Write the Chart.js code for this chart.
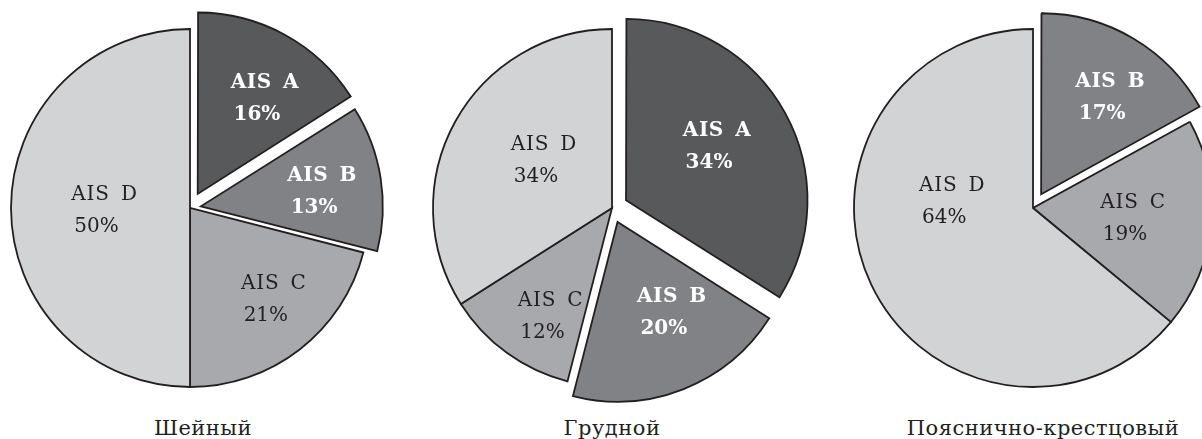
<!DOCTYPE html>
<html>
<head>
<meta charset="utf-8">
<script src="https://cdn.jsdelivr.net/npm/chart.js@4.4.1/dist/chart.umd.min.js"></script>
<style>
  html, body { margin: 0; padding: 0; background: #fff; }
  body { width: 1202px; height: 439px; overflow: hidden; position: relative; }
  .pie { position: absolute; top: 8px; }
  .caption {
    position: absolute; top: 418px; width: 400px; text-align: center;
    font-family: "DejaVu Serif", serif; font-size: 21px; line-height: 20px;
    letter-spacing: 0.5px; color: #231f20;
  }
</style>
</head>
<body>
<canvas id="pie_cervical" class="pie" width="400" height="400" style="left:-10px"></canvas>
<canvas id="pie_thoracic" class="pie" width="400" height="400" style="left:412px"></canvas>
<canvas id="pie_lumbar" class="pie" width="400" height="400" style="left:833px"></canvas>
<div class="caption" id="cap0" style="left:3px"></div>
<div class="caption" id="cap1" style="left:412px"></div>
<div class="caption" id="cap2" style="left:843px"></div>

<script>
// AIS grades and share of patients (%) per spinal region
var categories = ["AIS A", "AIS B", "AIS C", "AIS D"];
var cervical = [16, 13, 21, 50];
var thoracic = [34, 20, 12, 34];
var lumbosacral = [0, 17, 19, 64];
var regionTitles = ["Шейный", "Грудной", "Пояснично-крестцовый"];

var sliceColors = ["#58595b", "#808285", "#a7a9ac", "#d1d3d4"];
var inkColor = "#231f20";

// text inside the slices: [angle clockwise from 12 o'clock, part of radius]
var sliceLabels = {
  id: "sliceLabels",
  afterDatasetsDraw: function(chart, args, opts) {
    var ctx = chart.ctx;
    var meta = chart.getDatasetMeta(0);
    var values = chart.data.datasets[0].data;

    meta.data.forEach(function(arc, i) {
      if (!values[i]) {
        return;
      }
      var spot = opts.spots[i];
      var mid = (arc.startAngle + arc.endAngle) / 2;
      var shift = (arc.options.offset || 0) / 4;
      var ax = arc.x + Math.cos(mid) * shift;
      var ay = arc.y + Math.sin(mid) * shift;
      var a = (spot[0] - 90) * Math.PI / 180;
      var r = spot[1] * arc.outerRadius;
      var x = ax + Math.cos(a) * r;
      var y = ay + Math.sin(a) * r;
      var strong = i < 2;

      ctx.save();
      ctx.font = (strong ? "bold " : "") + "20px 'DejaVu Serif'";
      ctx.fillStyle = strong ? "#ffffff" : inkColor;
      ctx.textAlign = "center";
      ctx.textBaseline = "middle";
      ctx.letterSpacing = strong ? "0.5px" : "0.8px";
      ctx.wordSpacing = "4px";
      ctx.fillText(chart.data.labels[i], x + 4, y - 16);
      ctx.wordSpacing = "0px";
      ctx.letterSpacing = "0px";
      ctx.fillText(values[i] + "%", x - 4, y + 16);
      ctx.restore();
    });
  }
};

function makePie(canvasId, values, offsets, spots) {
  var config = {
    type: "pie",
    data: {
      labels: categories,
      datasets: [{
        data: values,
        backgroundColor: sliceColors,
        borderColor: inkColor,
        borderWidth: 1.8,
        borderJoinStyle: "miter",
        offset: offsets
      }]
    },
    options: {
      responsive: false,
      animation: false,
      events: [],
      radius: 179,
      layout: { padding: 0 },
      plugins: {
        legend: { display: false },
        tooltip: { enabled: false },
        sliceLabels: { spots: spots }
      }
    },
    plugins: [sliceLabels]
  };
  return new Chart(document.getElementById(canvasId).getContext("2d"), config);
}

function load() {
  makePie("pie_cervical", cervical, [64, 44, 0, 0],
    [[33.5, 0.64], [83, 0.66], [139, 0.68], [268, 0.50]]);
  makePie("pie_thoracic", thoracic, [64, 60, 0, 0],
    [[58.5, 0.57], [151, 0.58], [211, 0.71], [303, 0.48]]);
  makePie("pie_lumbar", lumbosacral, [0, 64, 0, 0],
    [[0, 0], [34, 0.65], [96.5, 0.54], [274, 0.475]]);

  for (var i = 0; i < regionTitles.length; i++) {
    document.getElementById("cap" + i).textContent = regionTitles[i];
  }
}

document.addEventListener("DOMContentLoaded", load, false);
</script>
</body>
</html>
